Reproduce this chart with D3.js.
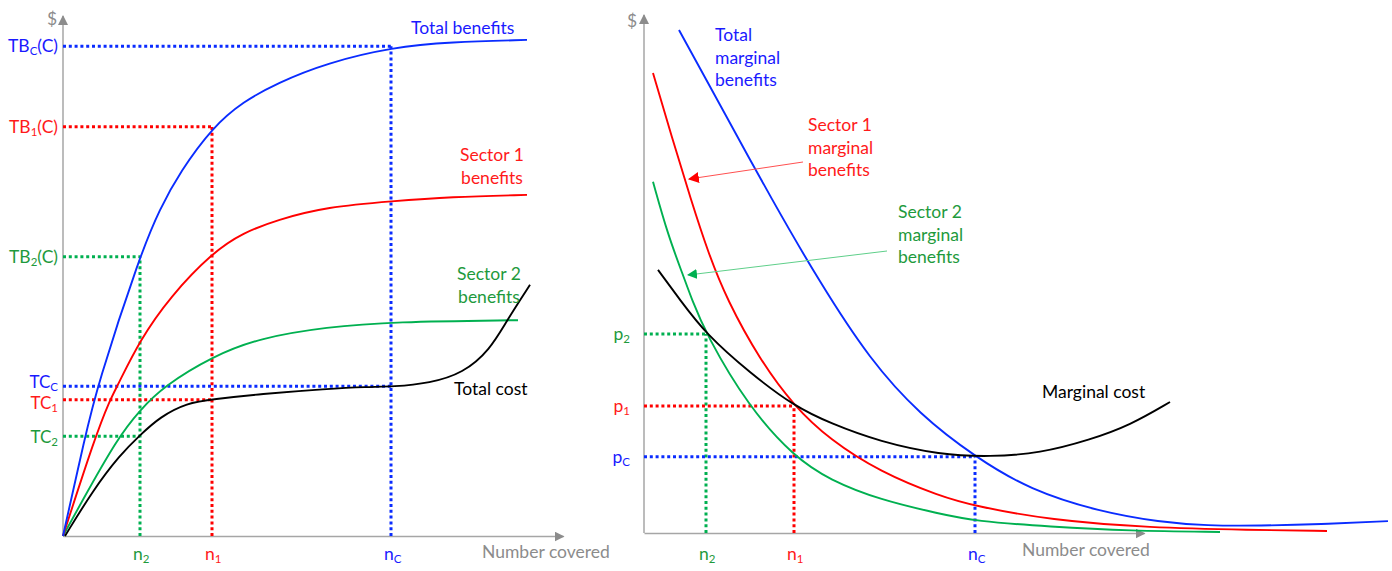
<!DOCTYPE html>
<html>
<head>
<meta charset="utf-8">
<script src="https://cdn.jsdelivr.net/npm/d3@7"></script>
<style>
  body { margin: 0; background: #fff; }
  svg { display: block; font-family: Lato, "Open Sans", sans-serif; }
</style>
</head>
<body>
<div id="chart"></div>
<script>
// ---- data ----
// left panel: totals
var totalBenefits = [[0,0],[4.4,19.0],[6.8,28.7],[15.4,54.0],[19.4,63.0],[23.4,70.0],[30,78.7],[36,83.5],[42.8,87.1],[52.8,91.0],[66,94.0],[77.4,95.0],[92.8,95.4]];
var sector1Benefits = [[0,0],[6.4,19.0],[9.4,26.2],[10.8,28.7],[15.4,37.7],[21.4,46.0],[30,54.6],[36,58.3],[42.8,60.8],[52.8,63.3],[66,64.4],[77.4,65.2],[92.8,65.6]];
var sector2Benefits = [[0,0],[3.4,6.0],[11,19.0],[15.4,24.2],[20,28.7],[30,34.6],[39.4,38.1],[52.8,40.2],[66,41.2],[91,41.5]];
var totalCost = [[0.4,0],[6,8.8],[11.4,15.6],[15.4,19.4],[19.4,22.9],[24.8,25.6],[30,26.3],[39.4,27.3],[52.8,28.3],[60.8,28.7],[66,28.7],[73.4,29.4],[80,31.3],[85.4,35.8],[88.8,41.5],[93.4,48.3]];

// left panel markers, order: sector 2, sector 1, combined
var markerSubs = ["2", "1", "C"];
var leftN = [15.4, 29.8, 65.6];
var leftTB = [53.7, 78.7, 94.2];
var leftTC = [19.2, 26.2, 28.8];

// right panel: marginals
var totalMarginal = [[7,97.1],[16.2,80.9],[25.6,64.3],[35.2,48.3],[45.2,33.4],[55.2,22.8],[66.2,14.7],[77.2,8.3],[91.2,4.1],[103.2,2.1],[112.6,1.4],[123.2,1.4],[135.2,1.7],[148.8,2.3]];
var sector1Marginal = [[1.8,88.8],[5.6,76.3],[9.4,64.3],[12.8,54.2],[16.6,45.0],[23.2,33.4],[30,24.5],[37.2,18.0],[47.2,11.8],[59.2,7.1],[66.2,5.2],[81.2,2.5],[101.2,1.0],[121.2,0.6],[136.6,0.4]];
var sector2Marginal = [[1.8,67.8],[4.8,57.5],[7.8,49.8],[9.6,45.0],[12.4,38.4],[20.8,24.5],[30,14.7],[37.2,10.2],[47.2,6.4],[59.2,3.7],[66.2,2.3],[81.2,1.2],[97.2,0.4],[115.2,0.2]];
var marginalCost = [[2.8,50.8],[7.2,45.0],[12.4,38.4],[21.2,30.9],[30,24.5],[37.2,21.2],[47.2,17.6],[59.2,15.1],[69.2,14.7],[79.2,15.4],[89.2,18.0],[97.2,20.8],[105.2,25.3]];

var rightN = [12.4, 30, 66.2];
var rightP = [38.4, 24.5, 14.7];

// ---- styling ----
var lineCol = ["#00b050", "#ff0000", "#0a2cff"];
var textCol = ["#1e9a3c", "#ff1a1a", "#1a1aff"];
var axisCol = "#a6a6a6";
var fs = 17.5;

var width = 1392, height = 571;

var svg = d3.select("#chart").append("svg")
  .attr("width", width)
  .attr("height", height);

var defs = svg.append("defs");
function arrowMarker(id, col, size) {
  defs.append("marker")
    .attr("id", id)
    .attr("viewBox", "0 0 10 10")
    .attr("refX", 9).attr("refY", 5)
    .attr("markerWidth", size).attr("markerHeight", size)
    .attr("markerUnits", "userSpaceOnUse")
    .attr("orient", "auto")
    .append("path")
    .attr("d", "M0,0L10,5L0,10z")
    .attr("fill", col);
}
arrowMarker("axisArrow", "#8c8c8c", 10);
arrowMarker("redArrow", "#ff0000", 11);
arrowMarker("greenArrow", "#00b050", 10);

var xL = d3.scaleLinear().domain([0, 100]).range([63, 563]);
var yL = d3.scaleLinear().domain([0, 100]).range([536, 16]);
var xR = d3.scaleLinear().domain([0, 100]).range([644, 1144]);
var yR = d3.scaleLinear().domain([0, 100]).range([533, 15]);

function drawAxes(x, y) {
  var gx = svg.append("g")
    .attr("transform", "translate(0," + y(0) + ")")
    .call(d3.axisBottom(x).ticks(0).tickSize(0).tickSizeOuter(0));
  gx.select(".domain").attr("stroke", axisCol).attr("stroke-width", 1.5)
    .attr("marker-end", "url(#axisArrow)");
  var gy = svg.append("g")
    .attr("transform", "translate(" + x(0) + ",0)")
    .call(d3.axisLeft(y).ticks(0).tickSize(0).tickSizeOuter(0));
  gy.select(".domain").attr("stroke", axisCol).attr("stroke-width", 1.5)
    .attr("d", "M0," + y(0) + "V" + y(100))
    .attr("marker-end", "url(#axisArrow)");
}

function subText(g, x, y, base, sub, tail, col, anchor, size) {
  var t = g.append("text")
    .attr("x", x).attr("y", y)
    .attr("fill", col)
    .attr("font-size", size || fs)
    .attr("text-anchor", anchor || "start");
  t.append("tspan").text(base);
  t.append("tspan").attr("font-size", 11.5).attr("dy", 3).text(sub);
  if (tail) t.append("tspan").attr("dy", -3).text(tail);
  return t;
}

function dotted(x1, y1, x2, y2, col) {
  svg.append("line")
    .attr("x1", x1).attr("y1", y1).attr("x2", x2).attr("y2", y2)
    .attr("stroke", col)
    .attr("stroke-width", 3)
    .attr("stroke-dasharray", "3,2.8");
}

function curve(data, x, y, col) {
  var line = d3.line()
    .x(function(d) { return x(d[0]); })
    .y(function(d) { return y(d[1]); })
    .curve(d3.curveBasis);
  svg.append("path")
    .datum(data)
    .attr("d", line)
    .attr("fill", "none")
    .attr("stroke", col)
    .attr("stroke-width", 1.9);
}

// ---------- left panel ----------
drawAxes(xL, yL);

leftN.forEach(function(n, i) {
  dotted(xL(0), yL(leftTB[i]), xL(n), yL(leftTB[i]), lineCol[i]);
  dotted(xL(0), yL(leftTC[i]), xL(n), yL(leftTC[i]), lineCol[i]);
  dotted(xL(n), yL(0), xL(n), yL(leftTB[i]), lineCol[i]);
});

curve(sector2Benefits, xL, yL, lineCol[0]);
curve(sector1Benefits, xL, yL, lineCol[1]);
curve(totalBenefits, xL, yL, lineCol[2]);
curve(totalCost, xL, yL, "#000");

var lbl = svg.append("g");
var tcShift = [7, 9, 2];
leftN.forEach(function(n, i) {
  subText(lbl, xL(0) - 5, yL(leftTB[i]) + 6, "TB", markerSubs[i], "(C)", textCol[i], "end");
  subText(lbl, xL(0) - 5, yL(leftTC[i]) + tcShift[i], "TC", markerSubs[i], null, textCol[i], "end", 17);
  subText(lbl, xL(n) - 7, 560, "n", markerSubs[i], null, textCol[i], "start");
});

lbl.append("text").attr("x", 47).attr("y", 25).attr("fill", "#8c8c8c").attr("font-size", fs).text("$");
lbl.append("text").attr("x", 482).attr("y", 558).attr("fill", "#8c8c8c").attr("font-size", fs).text("Number covered");
lbl.append("text").attr("x", 411).attr("y", 34).attr("fill", textCol[2]).attr("font-size", fs).text("Total benefits");

function block(g, x, y, lines, col, anchor) {
  var t = g.append("text").attr("x", x).attr("y", y).attr("fill", col)
    .attr("font-size", fs).attr("text-anchor", anchor || "start");
  lines.forEach(function(s, k) {
    t.append("tspan").attr("x", x).attr("dy", k ? 22.5 : 0).text(s);
  });
}
block(lbl, 492, 161, ["Sector 1", "benefits"], textCol[1], "middle");
block(lbl, 489, 280, ["Sector 2", "benefits"], textCol[0], "middle");
lbl.append("text").attr("x", 454).attr("y", 395).attr("fill", "#000").attr("font-size", fs).text("Total cost");

// ---------- right panel ----------
drawAxes(xR, yR);

rightN.forEach(function(n, i) {
  dotted(xR(0), yR(rightP[i]), xR(n), yR(rightP[i]), lineCol[i]);
  dotted(xR(n), yR(0), xR(n), yR(rightP[i]), lineCol[i]);
});

curve(sector2Marginal, xR, yR, lineCol[0]);
curve(sector1Marginal, xR, yR, lineCol[1]);
curve(totalMarginal, xR, yR, lineCol[2]);
curve(marginalCost, xR, yR, "#000");

var lbr = svg.append("g");
rightN.forEach(function(n, i) {
  subText(lbr, 630, yR(rightP[i]) + 6, "p", markerSubs[i], null, textCol[i], "end");
  subText(lbr, xR(n) - 7, 560, "n", markerSubs[i], null, textCol[i], "start");
});

lbr.append("text").attr("x", 627).attr("y", 27).attr("fill", "#8c8c8c").attr("font-size", fs).text("$");
lbr.append("text").attr("x", 1022).attr("y", 556).attr("fill", "#8c8c8c").attr("font-size", fs).text("Number covered");
block(lbr, 715, 41, ["Total", "marginal", "benefits"], textCol[2]);
block(lbr, 808, 131, ["Sector 1", "marginal", "benefits"], textCol[1]);
block(lbr, 898, 218, ["Sector 2", "marginal", "benefits"], textCol[0]);
lbr.append("text").attr("x", 1042).attr("y", 398).attr("fill", "#000").attr("font-size", fs).text("Marginal cost");

// annotation arrows
svg.append("line").attr("x1", 803).attr("y1", 162).attr("x2", 689).attr("y2", 179)
  .attr("stroke", "#ff5050").attr("stroke-width", 1).attr("marker-end", "url(#redArrow)");
svg.append("line").attr("x1", 887).attr("y1", 251).attr("x2", 688).attr("y2", 275)
  .attr("stroke", "#5fcf8a").attr("stroke-width", 1).attr("marker-end", "url(#greenArrow)");
</script>
</body>
</html>
